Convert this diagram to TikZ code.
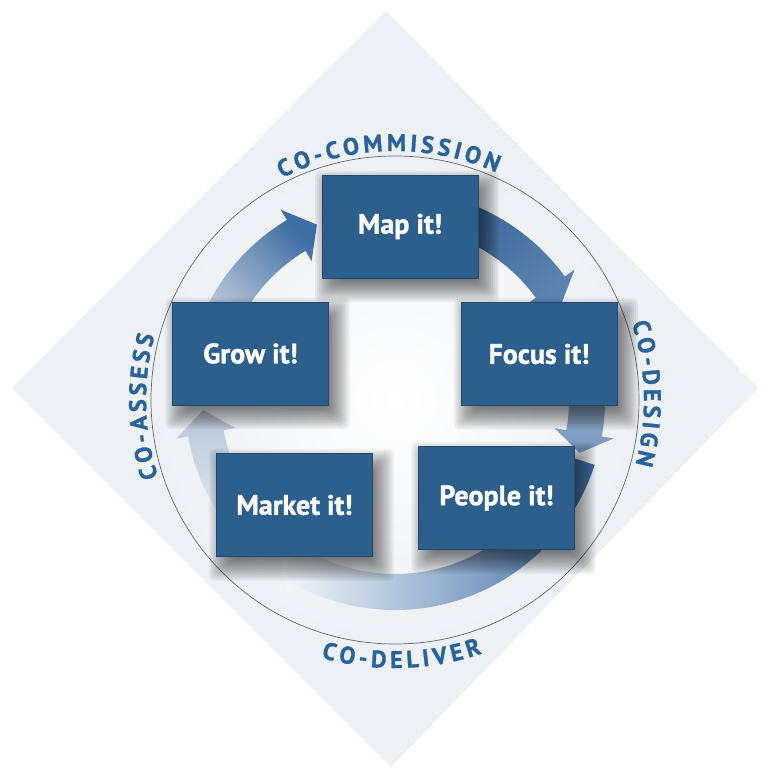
\documentclass[tikz,border=0pt]{standalone}
\usepackage{fontspec}
\setmainfont{PT Sans}[BoldFeatures={FakeBold=1.2}]
\usetikzlibrary{decorations.text}
\definecolor{boxblue}{HTML}{2C5F8C}
\definecolor{boxedge}{HTML}{22496D}
\definecolor{ringblue}{HTML}{28649B}
\definecolor{paper}{HTML}{EDF0F4}
\definecolor{bandblue}{HTML}{3E6EA4}
\definecolor{bandgrey}{HTML}{D3DAE4}
\newcommand{\stagefont}{\fontsize{28}{30}\selectfont\bfseries}
\newcommand{\ringfont}{\fontsize{24}{26}\selectfont\bfseries}
\pgfdeclarelayer{back}
\pgfdeclarelayer{shade}
\pgfsetlayers{back,shade,main}
\tikzset{
  stagebox/.style={draw=boxedge, fill=boxblue, text=white, font=\stagefont,
    minimum width=156pt, minimum height=103pt, inner sep=0pt},
  ringlabel/.style={decorate, decoration={text along path,
      text align={fit to path}, text={|\ringfont\color{ringblue}|#1}}},
}

\begin{document}
\begin{tikzpicture}[x=1pt,y=1pt]

  \newcommand\bandmid{192pt}
  \newcommand\bandout{210pt}
  \newcommand\bandin{174pt}
  \newcommand\headout{222pt}
  \newcommand\headin{162pt}
  %% #1 shading, #2 tail angle, #3 head base, #4 tip
  \newcommand\ringarrow[4]{%
    \path[#1] (#2:\bandout) arc[start angle=#2, end angle=#3, radius=\bandout]
      -- (#3:\headout) -- (#4:\bandmid) -- (#3:\headin) -- (#3:\bandin)
      arc[start angle=#3, end angle=#2, radius=\bandin] -- cycle;}
  %% soft shadow below a stage box
  \newcommand\stageshadow[1]{%
    \foreach \e in {14,12,...,-8}
      {\fill[black, opacity=0.055, rounded corners=5pt]
        ([shift={(7-\e,-10-\e)}]#1.south west) rectangle ([shift={(7+\e,-10+\e)}]#1.north east);}}

  \begin{pgfonlayer}{back}
  \fill[white] (0,0) rectangle (769,776);
  \useasboundingbox (0,0) rectangle (769,776);

  %% diamond and ring
  \coordinate (top) at (386,765);
  \coordinate (right) at (758,388);
  \coordinate (bottom) at (391,9);
  \coordinate (left) at (12,388);
  \coordinate (ctr) at (395,376);
  \fill[paper] (top) -- (right) -- (bottom) -- (left) -- cycle;
  \shade[inner color=white, outer color=paper] (ctr) circle[radius=244pt];
  \draw[black!60, line width=0.7pt] (ctr) circle[radius=244pt];

  %% curved arrows, clockwise
  \begin{scope}[shift={(ctr)}]
    \ringarrow{left color=paper!50!white, right color=bandblue}{-18}{-119}{-127} %% people -> market
    \ringarrow{top color=bandgrey!80!bandblue, bottom color=paper!60!white}{230}{190}{183} %% market -> grow
    \ringarrow{left color=bandgrey, right color=bandblue, shading angle=135}{165}{121}{114} %% grow -> map
    \ringarrow{left color=bandblue!90!black, right color=bandblue!85!white, shading angle=45}{80}{36}{30} %% map -> focus
    \ringarrow{top color=bandgrey!60!bandblue, bottom color=bandblue!70!white}{5}{-10}{-16} %% focus -> people
  \end{scope}

  %% ring texts
  \path[ringlabel={CO-COMMISSION}] ([shift={(117:249pt)}]ctr)
    arc[start angle=117, end angle=66, radius=249pt];
  \path[ringlabel={CO-DESIGN}] ([shift={(18:249pt)}]ctr)
    arc[start angle=18, end angle=-15, radius=249pt];
  \path[ringlabel={CO-DELIVER}] ([shift={(-106:268pt)}]ctr)
    arc[start angle=-106, end angle=-71, radius=268pt];
  \path[ringlabel={CO-ASSESS}] ([shift={(198:249pt)}]ctr)
    arc[start angle=198, end angle=165, radius=249pt];
  \end{pgfonlayer}

  %% stages
  \node[stagebox] (map) at (400,549.5) {Map it!};
  \node[stagebox] (focus) at (539,422) {Focus it!};
  \node[stagebox] (grow) at (250.5,422.5) {Grow it!};
  \node[stagebox] (market) at (294.5,271) {Market it!};
  \node[stagebox] (people) at (496.5,278) {People it!};

  \begin{pgfonlayer}{shade}
  \foreach \s in {map,focus,grow,market,people}
    {\stageshadow{\s}}
  \end{pgfonlayer}

\end{tikzpicture}
\end{document}
